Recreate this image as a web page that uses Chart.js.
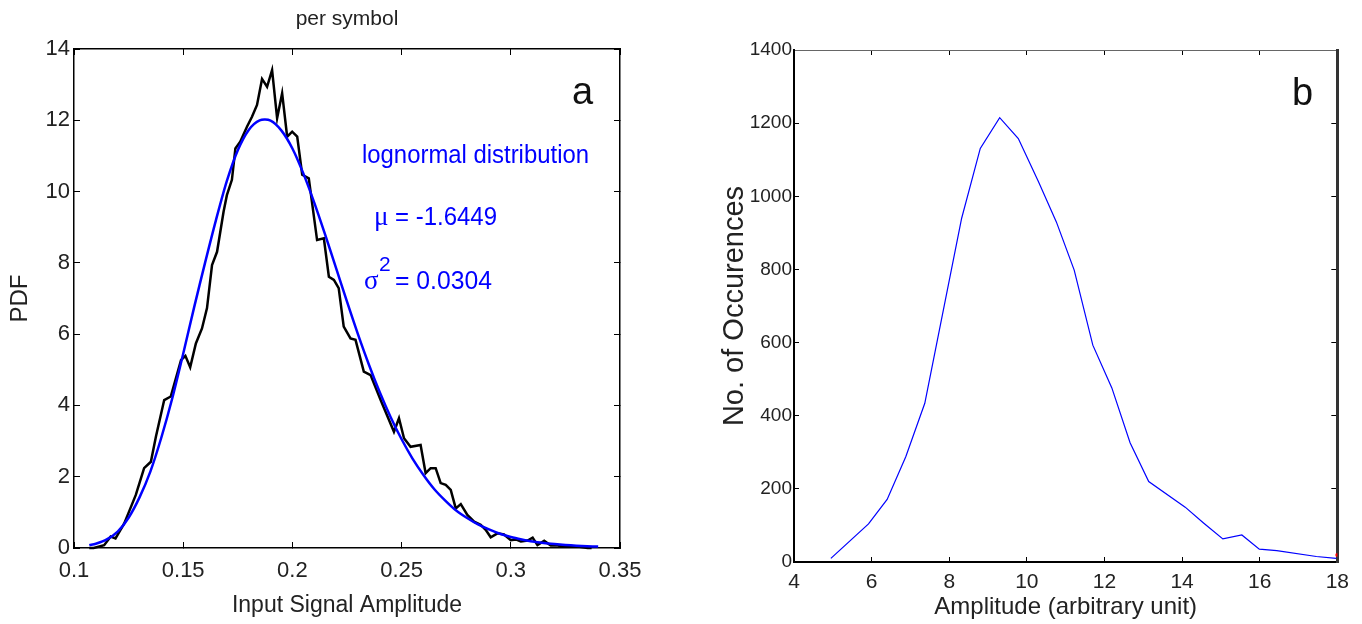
<!DOCTYPE html>
<html>
<head>
<meta charset="utf-8">
<script src="https://cdn.jsdelivr.net/npm/chart.js@4.4.0/dist/chart.umd.min.js"></script>
<style>
  html, body { margin: 0; padding: 0; background: #fff; }
  #wrap { position: relative; width: 1362px; height: 624px; }
  canvas { position: absolute; top: 0; }
  #chartA { left: 0; }
  #chartB { left: 681px; }
</style>
</head>
<body>
<div id="wrap">
  <canvas id="chartA" width="681" height="624"></canvas>
  <canvas id="chartB" width="681" height="624"></canvas>
</div>
<script>
// (a) measured PDF of the input signal amplitude, per symbol
const ampMeasured = [0.107, 0.109, 0.1138, 0.1168, 0.119, 0.123, 0.1252, 0.1283, 0.1321, 0.1352,
  0.1375, 0.1413, 0.1443, 0.149, 0.151, 0.1532, 0.1558, 0.1586, 0.1609, 0.1632,
  0.1655, 0.1685, 0.170, 0.1723, 0.1739, 0.1761, 0.1792, 0.1815, 0.1838, 0.1861,
  0.1884, 0.1907, 0.193, 0.1953, 0.1976, 0.1999, 0.2022, 0.2045, 0.2075, 0.2113,
  0.2144, 0.2167, 0.219, 0.2212, 0.2235, 0.2266, 0.2289, 0.2327, 0.2358, 0.2404,
  0.2465, 0.2488, 0.2511, 0.2541, 0.2587, 0.261, 0.2633, 0.2656, 0.2679, 0.2702,
  0.2725, 0.2748, 0.2771, 0.2801, 0.2832, 0.2862, 0.2885, 0.2908, 0.2939, 0.2969,
  0.300, 0.3023, 0.3046, 0.3077, 0.310, 0.3122, 0.3153, 0.3183, 0.3214, 0.3244,
  0.3306, 0.3352, 0.337];
const pdfMeasured = [0, 0, 0.08, 0.32, 0.27, 0.69, 1.02, 1.49, 2.24, 2.42,
  3.12, 4.15, 4.25, 5.27, 5.39, 5.07, 5.74, 6.16, 6.73, 7.94,
  8.31, 9.44, 9.90, 10.33, 11.21, 11.40, 11.82, 12.10, 12.43, 13.16,
  12.94, 13.41, 12.06, 12.76, 11.54, 11.68, 11.54, 10.47, 10.37, 8.64,
  8.69, 7.61, 7.52, 7.29, 6.21, 5.88, 5.84, 4.95, 4.85, 4.15,
  3.26, 3.64, 3.08, 2.84, 2.89, 2.10, 2.24, 2.24, 1.82, 1.77,
  1.63, 1.11, 1.23, 0.93, 0.74, 0.65, 0.51, 0.30, 0.41, 0.38,
  0.22, 0.24, 0.18, 0.21, 0.29, 0.08, 0.20, 0.07, 0.07, 0.04,
  0.04, 0, 0];

// (a) lognormal fit
const ampFit = [0.107, 0.11, 0.115, 0.12, 0.125, 0.13, 0.135, 0.14, 0.145, 0.15,
  0.155, 0.16, 0.165, 0.17, 0.175, 0.18, 0.185, 0.19, 0.195, 0.2,
  0.205, 0.21, 0.215, 0.22, 0.225, 0.23, 0.235, 0.24, 0.245, 0.25,
  0.255, 0.26, 0.265, 0.27, 0.275, 0.28, 0.285, 0.29, 0.295, 0.3,
  0.305, 0.31, 0.315, 0.32, 0.325, 0.33, 0.335, 0.34];
const pdfFit = [0.08, 0.12, 0.24, 0.46, 0.85, 1.42, 2.15, 3.1, 4.2, 5.45,
  6.75, 8.0, 9.2, 10.3, 11.16, 11.73, 12.0, 11.99, 11.71, 11.21,
  10.51, 9.69, 8.79, 7.85, 6.91, 6.0, 5.15, 4.37, 3.67, 3.05,
  2.51, 2.05, 1.65, 1.33, 1.05, 0.84, 0.66, 0.52, 0.40, 0.31,
  0.24, 0.18, 0.14, 0.11, 0.085, 0.065, 0.05, 0.04];

// (b) histogram of amplitudes
const amplitude = [4.95, 5.92, 6.40, 6.88, 7.37, 8.32, 8.80, 9.30, 9.78, 10.30,
  10.76, 11.22, 11.70, 12.19, 12.66, 13.14, 14.08, 14.56, 15.05, 15.54,
  15.99, 16.44, 17.46, 17.97];
const occurences = [10, 104, 171, 288, 434, 940, 1131, 1215, 1158, 1040,
  930, 798, 593, 476, 326, 220, 150, 106, 63, 74,
  35, 31, 15, 10];
const endMarker = [{ x: 18, y: 19 }];

const xTicksA = [0.1, 0.15, 0.2, 0.25, 0.3, 0.35];
const yTicksA = [0, 2, 4, 6, 8, 10, 12, 14];
const xTicksB = [4, 6, 8, 10, 12, 14, 16, 18];
const yTicksB = [0, 200, 400, 600, 800, 1000, 1200, 1400];

Chart.defaults.font.family = "'Liberation Sans', Arial, sans-serif";
Chart.defaults.color = '#222';

const pts = (xs, ys) => xs.map((x, i) => ({ x: x, y: ys[i] }));
const fixTicks = list => s => { s.ticks = list.map(v => ({ value: v })); };

// one axis of a boxed matlab-style frame, ticks pointing inwards
function axis(pos, min, max, list, size, o) {
  const horiz = pos === 'top' || pos === 'bottom';
  return {
    type: 'linear', position: pos, min: min, max: max,
    afterBuildTicks: fixTicks(list),
    afterFit: s => { if (horiz) s.height = size; else s.width = size; },
    grid: { drawOnChartArea: false, tickLength: -o.tick, color: '#000', lineWidth: 1 },
    border: { display: true, color: o.borderColor || '#000', width: o.borderWidth || 1.5 },
    ticks: {
      display: !!o.labels, padding: o.pad || 0, autoSkip: false, maxRotation: 0,
      font: { size: o.fontSize || 20 }, color: '#222',
      callback: v => String(v)
    },
    title: o.title ? { display: true, text: o.title, font: { size: o.titleSize }, color: '#222',
                       padding: o.titlePad || 0 } : { display: false }
  };
}

const textA = {
  id: 'textA',
  afterDraw(chart) {
    const c = chart.ctx;
    c.save();
    c.fillStyle = '#111';
    c.font = "38px 'Liberation Sans', Arial";
    c.fillText('a', 572, 104);
    c.fillStyle = '#0000ff';
    c.font = "26px 'Liberation Sans', Arial";
    c.fillText('lognormal distribution', 362, 163, 227);
    c.fillText('= -1.6449', 395, 225, 102);
    c.fillText('= 0.0304', 395, 289, 97);
    c.font = "27px 'Liberation Serif', serif";
    c.fillText('\u03bc', 374, 225);
    c.fillText('\u03c3', 364, 289);
    c.font = "21px 'Liberation Sans', Arial";
    c.fillText('2', 379, 271);
    c.restore();
  }
};

const textB = {
  id: 'textB',
  afterDraw(chart) {
    const c = chart.ctx;
    c.save();
    c.fillStyle = '#111';
    c.font = "38px 'Liberation Sans', Arial";
    c.fillText('b', 611, 105);
    c.restore();
  }
};

new Chart(document.getElementById('chartA'), {
  type: 'line',
  data: {
    datasets: [{
      label: 'measured',
      data: pts(ampMeasured, pdfMeasured),
      borderColor: '#000', borderWidth: 2.5, pointRadius: 0, tension: 0, order: 1, clip: false
    }, {
      label: 'lognormal fit',
      data: pts(ampFit, pdfFit),
      borderColor: '#0000ff', borderWidth: 2.5, pointRadius: 0, tension: 0.3, order: 0, clip: false
    }]
  },
  options: {
    responsive: false, animation: false, events: [],
    layout: { padding: 0 },
    plugins: { legend: { display: false }, tooltip: { enabled: false } },
    scales: {
      x: axis('bottom', 0.1, 0.35, xTicksA, 76,
        { tick: 6, labels: true, pad: 16, fontSize: 22, title: 'Input Signal Amplitude', titleSize: 23, titlePad: 5 }),
      xTop: axis('top', 0.1, 0.35, xTicksA, 49,
        { tick: 6, title: 'per symbol', titleSize: 21, titlePad: 7 }),
      y: axis('left', 0, 14, yTicksA, 74,
        { tick: 6, labels: true, pad: 10, fontSize: 22, title: 'PDF', titleSize: 24, titlePad: 6 }),
      yRight: axis('right', 0, 14, yTicksA, 61, { tick: 6 })
    }
  },
  plugins: [textA]
});

new Chart(document.getElementById('chartB'), {
  type: 'line',
  data: {
    datasets: [{
      label: 'occurences',
      data: pts(amplitude, occurences),
      borderColor: '#0000ff', borderWidth: 1.2, pointRadius: 0, tension: 0, clip: false
    }, {
      label: 'end',
      data: endMarker,
      showLine: false, pointRadius: 2, pointBackgroundColor: '#ff0000', pointBorderWidth: 0
    }]
  },
  options: {
    responsive: false, animation: false, events: [],
    layout: { padding: 0 },
    plugins: { legend: { display: false }, tooltip: { enabled: false } },
    scales: {
      x: axis('bottom', 4, 18, xTicksB, 62,
        { tick: 5, labels: true, pad: 13, fontSize: 21, title: 'Amplitude (arbitrary unit)', titleSize: 24, titlePad: 2, borderWidth: 2 }),
      xTop: axis('top', 4, 18, xTicksB, 50, { tick: 5, borderColor: '#666', borderWidth: 1 }),
      y: axis('left', 0, 1400, yTicksB, 113,
        { tick: 5, labels: true, pad: 7, fontSize: 19, title: 'No. of Occurences', titleSize: 29, titlePad: 37, borderWidth: 2 }),
      yRight: axis('right', 0, 1400, yTicksB, 21, { tick: 6, borderColor: '#333', borderWidth: 3 })
    }
  },
  plugins: [textB]
});
</script>
</body>
</html>
